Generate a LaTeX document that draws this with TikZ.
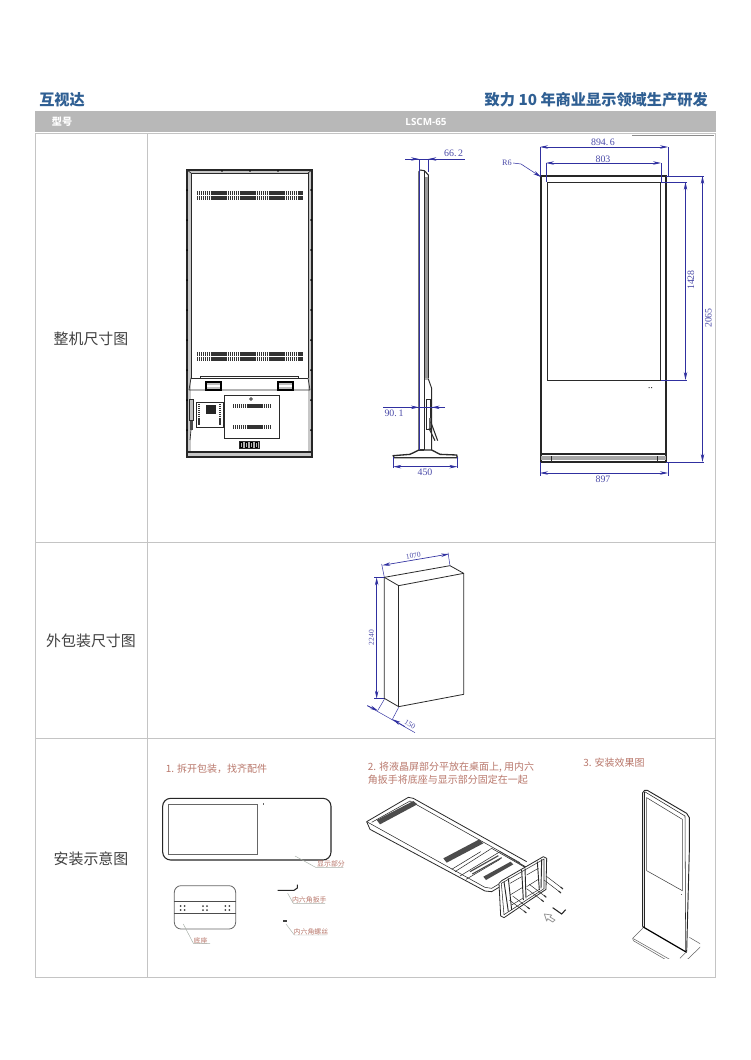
\documentclass[tikz,border=0pt]{standalone}
\usepackage{fontspec}
\setmainfont{Liberation Serif}
\newfontfamily\cjk{Noto Sans CJK SC}
\newfontfamily\latb{Open Sans}
\usetikzlibrary{arrows.meta}
\definecolor{titleblue}{HTML}{2F5F93}
\definecolor{hdrgray}{HTML}{B8B8B8}
\definecolor{rulegray}{HTML}{C4C4C4}
\definecolor{dimblue}{HTML}{3030A0}
\definecolor{dimtxt}{HTML}{4A4AA8}
\definecolor{redtxt}{HTML}{B9786C}
\definecolor{lead}{HTML}{A8B0A8}
\definecolor{inkgray}{HTML}{2A2A2A}
\tikzset{
  tip/.tip={Stealth[length=6pt,width=2.6pt]},
  rowlabel/.style={font=\cjk\fontsize{11.2}{13}\selectfont,text=black!75,inner sep=0pt},
  dimlabel/.style={font=\fontsize{7.4}{9}\selectfont,text=dimtxt,inner sep=0pt},
  smalldim/.style={font=\fontsize{5.6}{7}\selectfont,text=dimtxt,inner sep=0pt},
  steplabel/.style={font=\cjk\fontsize{7.5}{9.6}\selectfont,text=redtxt,inner sep=0pt,anchor=west},
  partlabel/.style={font=\cjk\fontsize{5.2}{6}\selectfont,text=redtxt,inner sep=0pt},
  dimline/.style={draw=dimblue,line width=.5pt,tip-tip},
  dimone/.style={draw=dimblue,line width=.5pt,-tip},
  dimext/.style={draw=dimblue,line width=.35pt},
  ink/.style={draw=inkgray,line width=.5pt},
  thick ink/.style={draw=black!85,line width=1.3pt},
  vent/.style={draw=black!80,line width=2.8pt,dash pattern=on 1.1pt off .35pt},
  leader/.style={draw=lead,line width=.35pt},
  rule/.style={draw=rulegray,line width=.55pt},
}
\begin{document}
\begin{tikzpicture}[x=.75pt,y=-.75pt]
\useasboundingbox (0,0) rectangle (750,1060);
\fill[white] (0,0) rectangle (750,1060);

% ---- heading
\node[anchor=west,inner sep=0pt,font=\cjk\bfseries\fontsize{11.4}{13}\selectfont,text=titleblue] (brand) at (39,100) {互视达};
\node[anchor=east,inner sep=0pt,font=\cjk\bfseries\fontsize{11.4}{13}\selectfont,text=titleblue] (slogan) at (708,100) {致力 10 年商业显示领域生产研发};
\fill[hdrgray] (35,111) rectangle (716,131.5);
\node[inner sep=0pt,font=\cjk\bfseries\fontsize{7.6}{9}\selectfont,text=white] (modelkey) at (62,122) {型号};
\node[inner sep=0pt,font=\latb\bfseries\fontsize{7.4}{9}\selectfont,text=white] (modelval) at (426,122) {LSCM-65};

% ---- table
\draw[rule] (35,133) rectangle (715,977);
\draw[rule] (147,133) -- (147,977);
\draw[rule] (35,542.5) -- (715,542.5);
\draw[rule] (35,738) -- (715,738);
\draw[black!45,line width=.7pt] (632,135) -- (714,135);
\node[rowlabel] (r1) at (91,339) {整机尺寸图};
\node[rowlabel] (r2) at (91,641) {外包装尺寸图};
\node[rowlabel] (r3) at (91,859) {安装示意图};

% ---- rear view
\fill[black!22] (187,170) rectangle (312,457);
\fill[white] (191,173) rectangle (308,452);
\draw[thick ink,line width=.9pt] (187,170) rectangle (312,457);
\draw[ink,line width=.7pt] (191,173) -- (191,378) (308,173) -- (308,378) (191,173) -- (308,173);
\draw[ink] (187,170) -- (191,173) (312,170) -- (308,173);
\draw[ink] (191,378) -- (189,390) (308,378) -- (310,390) (189,390) -- (310,390);
\draw[ink] (200,378) -- (200,376) -- (298,376) -- (298,378) (191,378) -- (308,378);
\foreach \y in {193,198,354,359} \draw[vent] (197,\y) -- (303,\y);
\foreach \y in {190,220,250,280,310,340,370,400,430} {\fill[black] (187,\y) circle (1); \fill[black] (311,\y) circle (1);}
\foreach \x in {222,250,278} \fill[black] (\x,171) circle (.8);
\foreach \x in {206,278} {
  \draw[black,line width=.9pt,fill=black!25] (\x,382) rectangle ++(15,8);
  \fill[white] (\x+1,385) rectangle ++(13,2);
}
\draw[ink,line width=.7pt] (224,395) rectangle (279,438);
\draw[vent,line width=3.4pt] (233,406) -- (270,406);
\draw[vent,line width=3.4pt] (233,427) -- (270,427);
\draw[ink] (251,399) circle (1.3);
\draw[ink,line width=.7pt] (196,402) rectangle (223,427);
\fill[black!85] (206,405) rectangle (216,414);
\draw[vent,line width=2pt] (199,404) -- (199,425);
\draw[vent,line width=2pt] (220,404) -- (220,425);
\draw[ink,fill=black!25] (189,399) rectangle (193,420);
\fill[black!70] (190,421) rectangle (193,430);
\draw[ink] (191,430) -- (190,440);
\draw[ink,fill=black!30] (239,441) rectangle (259,448);
\foreach \x in {242,247,252,257} \draw[black,line width=.5pt] (\x,442) rectangle ++(-2,5);
\draw[black!85,line width=.8pt] (187,452) -- (312,452);

% ---- side view
\begin{scope}[shift={(370,135)},x=.25pt,y=-.25pt]
  \draw[ink,line width=.8pt] (147,945) -- (147,110) -- (150,105) -- (163,107) -- (175,120) -- (175,730);
  \draw[ink] (163,107) -- (163,945);
  \fill[black!40] (165,125) rectangle (174,730);
  \draw[ink,line width=.7pt] (163,732) -- (175,732) -- (185,760) -- (185,945);
  \draw[ink,fill=white] (168,793) rectangle (180,883);
  \fill[black!60] (177,850) rectangle (183,880);
  \draw[ink,line width=.8pt] (182,860) -- (203,917);
  \draw[ink,line width=.8pt] (177,880) -- (195,917);
  \draw[ink,line width=1pt] (147,945) -- (120,958) -- (70,962) -- (72,968) -- (262,968) -- (260,960) -- (210,958) -- (185,945) -- cycle;
  \fill[black!80] (72,965) rectangle (262,969);
  \fill[black!80] (147,943) rectangle (163,948);
  % dimensions
  \draw[dimext] (147,72) -- (147,945);
  \draw[dimext] (175,72) -- (175,110);
  \draw[dimext] (105,72) -- (285,72);
  \draw[dimone] (105,72) -- (147,72);
  \draw[dimone] (215,72) -- (175,72);
  \node[dimlabel] (d662) at (251,55) {66.\,2};
  \draw[dimext] (40,817) -- (225,817);
  \draw[dimone] (105,817) -- (147,817);
  \draw[dimone] (225,817) -- (185,817);
  \node[dimlabel] (d901) at (72,835) {90.\,1};
  \draw[dimext] (70,965) -- (70,1000) (262,965) -- (262,1000);
  \draw[dimline] (70,995) -- (262,995);
  \node[dimlabel] (d450) at (165,1013) {450};
\end{scope}

% ---- front view
\draw[thick ink] (541,176) rectangle (666,462);
\draw[black!85,line width=1pt] (541,454) -- (666,454);
\draw[ink,line width=.6pt] (547,182) rectangle (660.5,380);
\fill[black!35] (541,456) rectangle (666,460);
\draw[ink,line width=.4pt] (551,456) -- (551,462) (657,456) -- (657,462);
\fill[black!80] (648.5,387) rectangle ++(1.2,1.2) (651,387) rectangle ++(1.2,1.2);
\draw[dimext] (540,147) -- (540,176) (668,147) -- (668,176);
\draw[dimline] (540,147) -- (668,147);
\node[dimlabel] (d8946) at (603,142) {894.\,6};
\draw[dimext] (546,163) -- (546,182) (661,163) -- (661,182);
\draw[dimline] (546,163) -- (661,163);
\node[dimlabel] (d803) at (603,159) {803};
\node[dimlabel,font=\fontsize{6.2}{8}\selectfont] (r6) at (507,163) {R6};
\coordinate (r6tip) at (541,177);
\draw[dimone,line width=.4pt] (r6.east) ++(1,0) -- (521,164) -- (r6tip);
\draw[dimext] (661,182) -- (687,182) (661,380) -- (687,380);
\draw[dimline] (685.5,182) -- (685.5,380);
\node[dimlabel,rotate=90] (d1428) at (691,280) {1428};
\draw[dimext] (666,176) -- (704,176) (666,462) -- (704,462);
\draw[dimline] (702.5,176) -- (702.5,462);
\node[dimlabel,rotate=90] (d2065) at (708.5,318) {2065};
\draw[dimext] (540,462) -- (540,476) (668,462) -- (668,476);
\draw[dimline] (540,473) -- (668,473);
\node[dimlabel] (d897) at (603,479) {897};

% ---- carton
\begin{scope}[shift={(350,540)},x=.25pt,y=-.25pt]
  \draw[ink,line width=.6pt,line join=round] (103,112) -- (300,77) -- (341,100) -- (341,463) -- (146,500) -- (103,475) -- cycle;
  \draw[ink,line width=.6pt] (103,112) -- (146,137) -- (341,100);
  \draw[ink,line width=.6pt] (146,137) -- (146,500);
  \draw[dimext] (103,112) -- (95,72) (300,77) -- (294,38);
  \draw[dimline] (97,76) -- (297,42);
  \node[smalldim,rotate=9.5] (d1070) at (190,47) {1070};
  \draw[dimext] (103,112) -- (72,112) (103,475) -- (72,475);
  \draw[dimline] (80,112) -- (80,476);
  \node[smalldim,rotate=90] (d2240) at (64,293) {2240};
  \draw[dimext] (103,478) -- (84,510) (146,502) -- (126,540);
  \draw[dimext] (52,497) -- (195,578);
  \draw[dimone] (52,497) -- (84,512);
  \draw[dimone] (165,560) -- (128,538);
  \node[smalldim,rotate=-32] (d150) at (180,553) {150};
\end{scope}

% ---- step 1
\node[steplabel] (s1) at (165.5,769) {1. 拆开包装，找齐配件};
\begin{scope}[shift={(150,750)},x=.25pt,y=-.25pt]
  \draw[black!85,line width=.8pt,rounded corners=6pt] (38,145) rectangle (543,330);
  \draw[black!60,line width=.6pt] (55,162) rectangle (323,313);
  \fill[black!60] (338,160) rectangle ++(3,5);
  \node[partlabel] (p1) at (543,342) {显示部分};
  \coordinate (p1a) at (435,318); \coordinate (p1b) at (497,352); \coordinate (p1c) at (580,352);
  \draw[leader] (p1a) -- (p1b) -- (p1c);
  \draw[black!60,line width=.6pt,rounded corners=5pt] (73,407) rectangle (257,537);
  \draw[black!70,line width=.6pt] (73,455) -- (257,455) (73,490) -- (257,490);
  \foreach \x in {98,165,232} \foreach \y in {468,480} {\fill[black!75] (\x-6,\y) circle (3); \fill[black!75] (\x+6,\y) circle (3);}
  \node[partlabel] (p2) at (152,573) {底座};
  \coordinate (p2a) at (100,522); \coordinate (p2b) at (130,580); \coordinate (p2c) at (180,580);
  \draw[leader] (p2a) -- (p2b) -- (p2c);
  \draw[black!85,line width=.8pt] (383,421) -- (432,421) -- (442,414) -- (442,404);
  \node[partlabel] (p3) at (478,449) {内六角扳手};
  \coordinate (p3a) at (413,430); \coordinate (p3b) at (430,460); \coordinate (p3c) at (525,460);
  \draw[leader] (p3a) -- (p3b) -- (p3c);
  \fill[black!75] (400,510) rectangle (411,516);
  \node[partlabel] (p4) at (483,545) {内六角螺丝};
  \coordinate (p4a) at (408,522); \coordinate (p4b) at (433,555); \coordinate (p4c) at (530,555);
  \draw[leader] (p4a) -- (p4b) -- (p4c);
\end{scope}

% ---- step 2
\node[steplabel,align=left] (s2) at (367.5,773.5) {2. 将液晶屏部分平放在桌面上, 用内六\\角扳手将底座与显示部分固定在一起};
\begin{scope}[shift={(360,790)},x=.25pt,y=-.25pt]
  \draw[ink,line width=.6pt,line join=round] (20,95) -- (145,22) -- (160,25) -- (500,215);
  \draw[ink,line width=.6pt] (20,95) -- (30,118) -- (375,303) -- (395,305) -- (420,290);
  \draw[ink,line width=.4pt] (20,95) -- (375,292) -- (395,295) -- (420,280);
  \draw[ink,line width=.4pt] (35,97) -- (150,33) -- (480,218);
  \draw[ink,line width=.4pt] (275,238) -- (362,185) (285,245) -- (395,175) (300,258) -- (420,185) (318,268) -- (420,208);
  \draw[ink,line width=.4pt] (420,185) -- (500,232) (395,175) -- (500,235);
  \fill[black!70] (50,90) -- (160,33) -- (172,43) -- (60,103) -- cycle;
  \fill[black!70] (250,205) -- (358,148) -- (370,160) -- (260,218) -- cycle;
  \draw[black!70,line width=.9pt] (330,245) -- (415,197) (337,252) -- (425,203);
  \fill[black!70] (370,260) -- (452,215) -- (460,223) -- (378,270) -- cycle;
\end{scope}
\begin{scope}[shift={(480,840)},x=.25pt,y=-.25pt]
  \draw[ink,line width=.6pt,line join=round,fill=white] (57,130) -- (65,122) -- (190,50) -- (200,55) -- (198,148) -- (72,233) -- (62,228) -- cycle;
  \draw[ink,line width=.4pt] (64,130) -- (192,57) -- (192,146) -- (72,224) -- cycle;
  \foreach \a/\b/\c/\d in {72/125/85/215, 85/115/95/210, 125/90/130/180, 135/85/138/175, 172/65/178/150, 185/58/183/145}
    \draw[ink,line width=.7pt] (\a,\b) -- (\c,\d);
  \draw[ink,line width=.35pt] (90,130) -- (125,110) (90,165) -- (128,142) (95,195) -- (128,175) (140,105) -- (175,85) (140,140) -- (175,118) (140,170) -- (178,148);
  \foreach \a/\b in {98/168,88/180,148/133,140/146,198/108,192/120} {
    \draw[ink,line width=.35pt] (\a,\b) -- ++(50,38);
    \draw[black!80,line width=.8pt] (\a+44,\b+33) -- ++(7,6);
  }
  \draw[black!85,line width=.8pt] (218,203) -- (245,222) -- (257,209);
  \draw[black!40,line width=.6pt,line join=round] (193,222) -- (215,225) -- (210,231) -- (225,240) -- (218,246) -- (203,236) -- (200,243) -- cycle;
\end{scope}

% ---- step 3
\node[steplabel] (s3) at (583,763) {3. 安装效果图};
\begin{scope}
\clip (600,760) rectangle (700,958);
\begin{scope}[shift={(570,750)},x=.25pt,y=-.25pt]
  \draw[black!85,line width=.7pt,line join=round] (218,530) -- (218,128) -- (224,121) -- (232,121) -- (350,190) -- (358,203) -- (358,300) -- (350,605);
  \draw[black!85,line width=.4pt] (224,125) -- (345,198) -- (347,605);
  \draw[black!85,line width=.4pt] (224,125) -- (224,535);
  \draw[black!75,line width=.4pt] (230,143) -- (337,208) -- (337,422) -- (230,362) -- cycle;
  \draw[black,line width=.9pt] (218,530) -- (350,607);
  \draw[black!60,line width=.4pt] (218,535) -- (188,565) -- (190,572) -- (320,648);
  \draw[black!60,line width=.4pt] (190,566) -- (320,640);
  \draw[black!60,line width=.4pt] (358,562) -- (392,582) -- (392,590) -- (340,640);
  \draw[black!60,line width=.4pt] (350,605) -- (330,625);
  \fill[black!60] (334,432) rectangle ++(3,4);
\end{scope}
\end{scope}
\end{tikzpicture}
\end{document}
